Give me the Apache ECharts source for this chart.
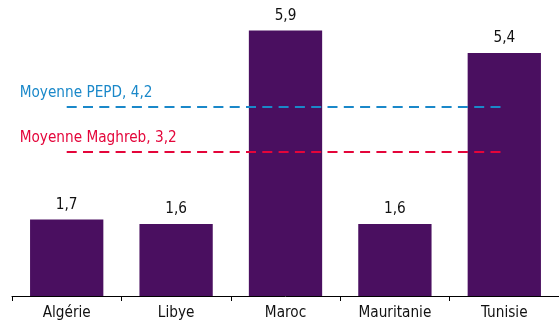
<!DOCTYPE html>
<html><head><meta charset="utf-8">
<script src="https://cdn.jsdelivr.net/npm/echarts@6/dist/echarts.min.js"></script>
<style>html,body{margin:0;padding:0;background:#fff}#c{width:559px;height:324px}</style>
</head><body><div id="c"></div>
<script>
const categories = ['Algérie', 'Libye', 'Maroc', 'Mauritanie', 'Tunisie'];
const values = [1.7, 1.6, 5.9, 1.6, 5.4];
const avgPEPD = 4.2;
const avgMaghreb = 3.2;
const avgPEPDLabel = 'Moyenne PEPD, 4,2';
const avgMaghrebLabel = 'Moyenne Maghreb, 3,2';

const FONT = '"Liberation Sans Narrow", "DejaVu Sans Condensed", sans-serif';
const chart = echarts.init(document.getElementById('c'), null, {renderer: 'canvas'});
chart.setOption({
  animation: false,
  grid: {left: 12, top: 26, width: 553, height: 270},
  xAxis: {
    type: 'category', data: categories,
    axisLine: {lineStyle: {color: '#000', width: 1}},
    axisTick: {show: true, length: 5, lineStyle: {color: '#000'}},
    axisLabel: {color: '#111', fontSize: 15.2, fontFamily: FONT, margin: 10}
  },
  yAxis: {type: 'value', min: 0, max: 6, show: false, splitLine: {show: false}},
  series: [{
    type: 'bar', data: values, barWidth: '67%',
    itemStyle: {color: '#4a0f60'},
    label: {show: true, position: 'top', distance: 7, color: '#111', fontSize: 15.2, fontFamily: FONT,
      formatter: p => String(p.value).replace('.', ',')},
    markLine: {
      symbol: 'none', silent: true,
      data: [
        [{coord: [0, avgPEPD], lineStyle: {color: '#1a88c9'}, label: {formatter: avgPEPDLabel, color: '#1a88c9'}}, {coord: [4, avgPEPD]}],
        [{coord: [0, avgMaghreb], lineStyle: {color: '#e4053a'}, label: {formatter: avgMaghrebLabel, color: '#e4053a'}}, {coord: [4, avgMaghreb]}]
      ],
      lineStyle: {type: [10, 6.3], width: 2},
      label: {show: true, position: 'insideStartTop', distance: 6, offset: [-53, 0], fontSize: 15.2, fontFamily: FONT}
    }
  }]
});
</script></body></html>
